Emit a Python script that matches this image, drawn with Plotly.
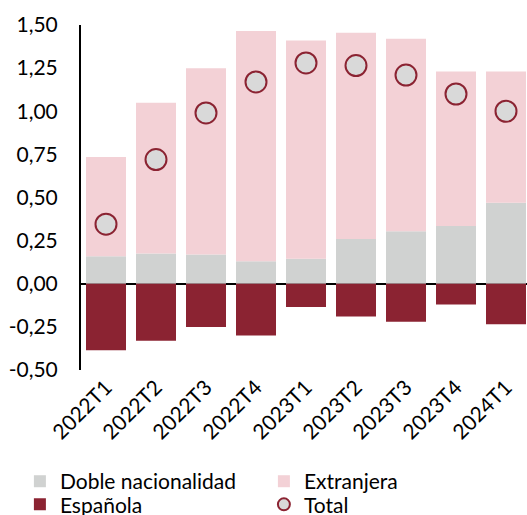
import plotly.graph_objects as go

periodos = ["2022T1", "2022T2", "2022T3", "2022T4", "2023T1",
            "2023T2", "2023T3", "2023T4", "2024T1"]
doble = [0.16, 0.175, 0.17, 0.13, 0.145, 0.26, 0.305, 0.335, 0.47]
extranjera = [0.575, 0.875, 1.08, 1.335, 1.265, 1.195, 1.115, 0.895, 0.76]
espanola = [-0.385, -0.33, -0.25, -0.30, -0.135, -0.19, -0.22, -0.12, -0.235]
total = [0.345, 0.72, 0.99, 1.17, 1.28, 1.265, 1.21, 1.10, 1.00]

granate = "#8B2332"
font_fam = "Lato, 'DejaVu Sans', sans-serif"

fig = go.Figure()
fig.add_trace(go.Bar(x=periodos, y=doble, name="Doble nacionalidad",
                     marker_color="#D0D2D1", marker_line_width=0, legend="legend"))
fig.add_trace(go.Bar(x=periodos, y=extranjera, name="Extranjera",
                     marker_color="#F3D1D6", marker_line_width=0, legend="legend"))
fig.add_trace(go.Bar(x=periodos, y=espanola, name="Española",
                     marker_color=granate, marker_line_width=0, legend="legend2"))
fig.add_trace(go.Scatter(x=periodos, y=total, name="Total", mode="markers",
                         marker=dict(size=21, color="#D9D9D9",
                                     line=dict(color=granate, width=2)),
                         legend="legend2"))

leg = dict(orientation="h", x=-0.137, xanchor="left", yanchor="top",
           entrywidth=199, tracegroupgap=0, itemsizing="constant",
           font=dict(size=21), traceorder="normal", bgcolor="rgba(0,0,0,0)")

fig.update_layout(
    width=527, height=515,
    barmode="relative", bargap=0.2,
    plot_bgcolor="white", paper_bgcolor="white",
    font=dict(family=font_fam, size=21, color="black"),
    margin=dict(l=81, r=0, t=25, b=145, autoexpand=False),
    showlegend=True,
    legend=dict(leg, y=-0.264),
    legend2=dict(leg, y=-0.331),
)
fig.update_xaxes(tickangle=-45, showline=False, ticks="", showgrid=False,
                 range=[-0.5, 8.42], automargin=False, tickfont=dict(size=21))
fig.update_yaxes(range=[-0.5, 1.5], tickvals=[-0.5, -0.25, 0, 0.25, 0.5, 0.75, 1.0, 1.25, 1.5],
                 ticktext=["-0,50", "-0,25", "0,00", "0,25", "0,50", "0,75", "1,00", "1,25", "1,50"],
                 showgrid=False, showline=True, linecolor="black", linewidth=2,
                 zeroline=True, zerolinecolor="black", zerolinewidth=2,
                 automargin=False, ticks="", ticklabelstandoff=17, tickfont=dict(size=21))

fig.write_html("out.html", config={"displayModeBar": False},
               post_script="document.body.style.margin='0';")
